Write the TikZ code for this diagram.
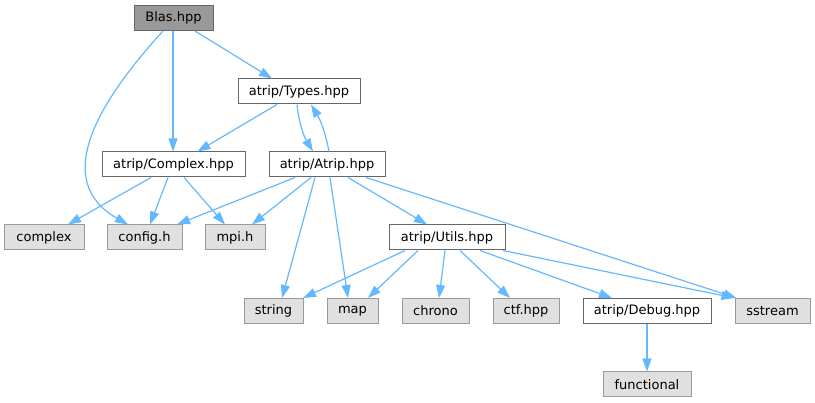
\documentclass[tikz,border=0pt]{standalone}
\usepackage{fontspec}
\setmainfont{DejaVu Sans}
\usetikzlibrary{arrows.meta}
\definecolor{edgeblue}{HTML}{63B8FF}
\definecolor{rootgray}{HTML}{999999}
\definecolor{sysgray}{HTML}{E0E0E0}
\definecolor{darkline}{HTML}{666666}
\definecolor{lightline}{HTML}{999999}

\begin{document}
\begin{tikzpicture}[x=1pt,y=-1pt,
    every node/.style={font=\fontsize{13}{15}\selectfont},
    box/.style={draw, rectangle, line width=1pt, minimum height=25pt, inner sep=0pt},
    file/.style={box, draw=darkline, fill=white},
    sys/.style={box, draw=lightline, fill=sysgray},
    root/.style={box, draw=darkline, fill=rootgray},
    dep/.style={draw=edgeblue, line width=1.2pt, -{Triangle[length=13pt,width=9pt]}}]
  \useasboundingbox (0,0) rectangle (815,403);
  % header files of the project
  \node[root, minimum width=79] (blas) at (173.5,18) {Blas.hpp};
  \foreach \n/\x/\y/\w/\t in {types/299/91.5/122/{atrip/Types.hpp},
      complex/173.5/164.5/143/{atrip/Complex.hpp}, atrip/327/164.5/116/{atrip/Atrip.hpp},
      utils/447/237.5/116/{atrip/Utils.hpp}, debug/647/311/128/{atrip/Debug.hpp}} {
    \node[file, minimum width=\w] (\n) at (\x,\y) {\t};
  }
  % system headers
  \foreach \n/\x/\y/\w/\t in {cplx/44/237.5/80/complex, config/144.5/237.5/75/config.h,
      mpi/235/237.5/60/mpi.h, string/273.5/311/59/string, map/352.5/311/51/map,
      chrono/435.5/311/67/chrono, ctf/526/311/66/ctf.hpp, sstream/772.5/311/75/sstream,
      functional/647/384.5/88/functional} {
    \node[sys, minimum width=\w] (\n) at (\x,\y) {\t};
  }
  % include edges
  \draw[dep] ([xshift=21.5]blas.south) -- ([xshift=-27]types.north);
  \draw[dep] ([xshift=-0.5]blas.south) -- ([xshift=-0.5]complex.north);
  \draw[dep] ([xshift=-10.5]blas.south) .. controls (100,100) and (50,180) .. ([xshift=-16.5]config.north);
  \draw[dep] ([xshift=-22]types.south) -- ([xshift=24]complex.north);
  \draw[dep] ([xshift=-2]types.south) to[bend right=12] ([xshift=-14]atrip.north);
  \draw[dep] ([xshift=2]atrip.north) to[bend right=10] ([xshift=12]types.south);
  \draw[dep] ([xshift=-22.5]complex.south) -- ([xshift=24]cplx.north);
  \draw[dep] ([xshift=-5.5]complex.south) -- ([xshift=5.5]config.north);
  \draw[dep] ([xshift=10.5]complex.south) -- ([xshift=-10]mpi.north);
  \draw[dep] ([xshift=-32]atrip.south) -- ([xshift=32.5]config.north);
  \draw[dep] ([xshift=-16]atrip.south) -- ([xshift=17]mpi.north);
  \draw[dep] ([xshift=-12]atrip.south) -- ([xshift=8.5]string.north);
  \draw[dep] ([xshift=3]atrip.south) -- ([xshift=-4.5]map.north);
  \draw[dep] ([xshift=21]atrip.south) -- ([xshift=-20]utils.north);
  \draw[dep] ([xshift=39]atrip.south) -- ([xshift=-36]sstream.north);
  \draw[dep] ([xshift=-42]utils.south) -- ([xshift=29.5]string.north);
  \draw[dep] ([xshift=-29]utils.south) -- ([xshift=15.5]map.north);
  \draw[dep] ([xshift=-2]utils.south) -- ([xshift=3.5]chrono.north);
  \draw[dep] ([xshift=13]utils.south) -- ([xshift=-16]ctf.north);
  \draw[dep] ([xshift=33]utils.south) -- ([xshift=-35]debug.north);
  \draw[dep] ([xshift=56]utils.south) -- ([xshift=-38]sstream.north);
  \draw[dep] (debug.south) -- (functional.north);
\end{tikzpicture}
\end{document}
